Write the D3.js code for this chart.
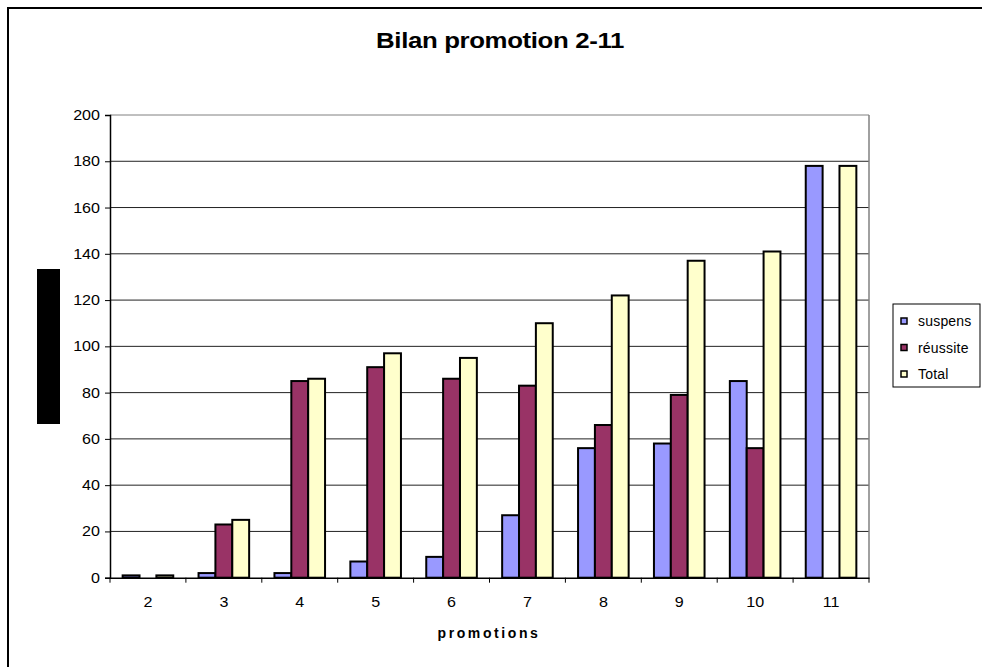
<!DOCTYPE html>
<html><head><meta charset="utf-8">
<script src="https://cdn.jsdelivr.net/npm/d3@7"></script>
<style>body{margin:0;background:#fff}svg{display:block;font-family:"Liberation Sans",Arial,sans-serif}</style>
</head><body>
<script>
const categories = ["2","3","4","5","6","7","8","9","10","11"];
const seriesNames = ["suspens","réussite","Total"];
const suspens = [1,2,2,7,9,27,56,58,85,178];
const reussite = [0,23,85,91,86,83,66,79,56,0];
const total = [1,25,86,97,95,110,122,137,141,178];
const yTicks = [0,20,40,60,80,100,120,140,160,180,200];
const colors = ["#9999FF","#993366","#FFFFCC"];
const title = "Bilan promotion 2-11";
const xTitle = "promotions";

const W = 982, H = 667;
const svg = d3.select("body").append("svg").attr("width", W).attr("height", H);
const L = 110, R = 869, T = 115, B = 577.7;
const SX = 1.15; // horizontal stretch of the reference text

function stretched(parent, str, x, yy, size, anchor, weight, sx) {
  return parent.append("text").attr("transform", `translate(${x},${yy}) scale(${sx},1)`)
    .attr("text-anchor", anchor).attr("font-size", size).attr("font-weight", weight || "normal")
    .attr("fill", "#000").text(str);
}

// outer frame
svg.append("rect").attr("x", 8).attr("y", 8).attr("width", 1100).attr("height", 1000)
  .attr("fill", "none").attr("stroke", "#000").attr("stroke-width", 2);

const y = d3.scaleLinear().domain([0, 200]).range([B, T]);
const x0 = d3.scaleBand().domain(categories).range([L, R]).padding(0);
const gw = x0.bandwidth();
const gap = gw * 0.75 / 4.5;
const x1 = d3.scaleBand().domain(seriesNames).range([gap, gw - gap]).padding(0);

// gridlines
svg.append("g").selectAll("line").data(yTicks.filter(d => d > 0)).join("line")
  .attr("x1", L).attr("x2", R).attr("y1", d => y(d)).attr("y2", d => y(d))
  .attr("stroke", d => d === 200 ? "#808080" : "#222").attr("stroke-width", 1);
svg.append("line").attr("x1", R).attr("x2", R).attr("y1", T).attr("y2", B)
  .attr("stroke", "#808080").attr("stroke-width", 1.5);

// bars
const data = categories.map((c, i) => ({c, vals: [suspens[i], reussite[i], total[i]]}));
const g = svg.append("g").selectAll("g").data(data).join("g")
  .attr("transform", d => `translate(${x0(d.c)},0)`);
g.selectAll("rect").data(d => d.vals.map((v, k) => ({v, k}))).join("rect")
  .filter(d => d.v > 0)
  .attr("x", d => x1(seriesNames[d.k]))
  .attr("y", d => y(d.v))
  .attr("width", x1.bandwidth())
  .attr("height", d => B - y(d.v))
  .attr("fill", d => colors[d.k])
  .attr("stroke", "#000").attr("stroke-width", 2);

// y axis
const ya = svg.append("g").attr("transform", `translate(${L},0)`)
  .call(d3.axisLeft(y).tickValues(yTicks).tickSize(5).tickFormat(""));
ya.select(".domain").attr("stroke", "#000").attr("stroke-width", 1.5);
ya.selectAll(".tick line").attr("stroke", "#000");
yTicks.forEach(t => stretched(svg, String(t), 100, y(t) + 5, 14, "end", "normal", SX));

// x axis
const xa = svg.append("g").attr("transform", `translate(0,${B})`)
  .call(d3.axisBottom(x0).tickSize(0).tickFormat(""));
xa.select(".domain").attr("stroke", "#000").attr("stroke-width", 1.5);
xa.append("g").selectAll("line").data(d3.range(categories.length + 1)).join("line")
  .attr("x1", i => L + i * gw).attr("x2", i => L + i * gw)
  .attr("y1", 0).attr("y2", 5).attr("stroke", "#000");
categories.forEach(c => stretched(svg, c, x0(c) + gw / 2, 607, 14, "middle", "normal", SX));

// titles
stretched(svg, title, 500, 48, 21.5, "middle", "bold", 1.2).style("letter-spacing", "-0.3px");
stretched(svg, xTitle, 489, 638, 14, "middle", "bold", 1.0).style("letter-spacing", "2.6px");

// redacted y-axis title block
svg.append("rect").attr("x", 37).attr("y", 269).attr("width", 23).attr("height", 155).attr("fill", "#000");

// legend
const lg = svg.append("g");
lg.append("rect").attr("x", 893).attr("y", 304).attr("width", 87).attr("height", 83)
  .attr("fill", "#fff").attr("stroke", "#000").attr("stroke-width", 1);
seriesNames.forEach((s, i) => {
  const yy = 321 + i * 26.5;
  lg.append("rect").attr("x", 901).attr("y", yy - 3).attr("width", 6).attr("height", 6)
    .attr("fill", colors[i]).attr("stroke", "#000").attr("stroke-width", 1.5);
  stretched(lg, s, 918, yy + 5, 14, "start", "normal", 1.0).style("letter-spacing", "0.2px");
});
</script>
</body></html>
